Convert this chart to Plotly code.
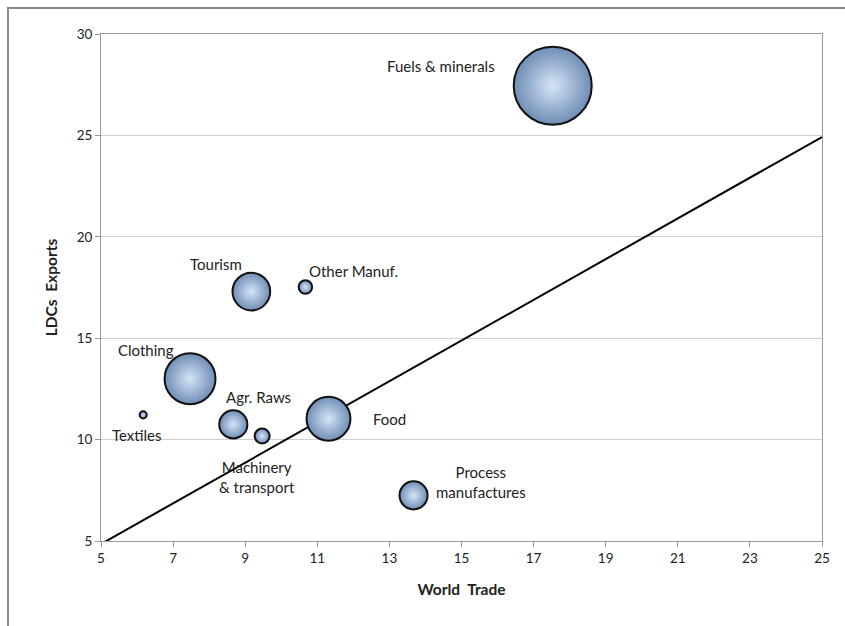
import plotly.graph_objects as go

sectors = ["Fuels & minerals", "Tourism", "Other Manuf.", "Clothing", "Textiles",
           "Agr. Raws", "Machinery<br>& transport", "Food", "Process<br>manufactures"]
world_trade = [17.53, 9.17, 10.67, 7.47, 6.17, 8.67, 9.47, 11.31, 13.67]
ldc_exports = [27.45, 17.3, 17.52, 13.0, 11.22, 10.75, 10.18, 11.03, 7.25]
bubble_size = [30.0, 7.0, 0.9, 12.8, 0.25, 3.9, 1.1, 9.5, 3.9]

# label offsets in pixels (dx, dy) relative to bubble centres
label_dx = [-112, -35, 48, -44, -6, 25, -5, 61, 67]
label_dy = [20, 28, 16, 29, -20, 27, -41, 0, 13]

ref_x = [5, 25]
ref_y = [4.85, 24.92]

fig = go.Figure()
fig.add_trace(go.Scatter(x=ref_x, y=ref_y, mode="lines",
                         line=dict(color="black", width=2), hoverinfo="skip",
                         showlegend=False))
fig.add_trace(go.Scatter(
    x=world_trade, y=ldc_exports, mode="markers",
    marker=dict(size=bubble_size, sizemode="area", sizeref=2 * 30 / 78 ** 2,
                color="#6f8db5",
                gradient=dict(type="radial", color="#d6e5f7"),
                line=dict(color="#111111", width=2), opacity=1),
    showlegend=False, text=sectors, hoverinfo="text"))

font_family = "Lato, Open Sans, sans-serif"
for s, x, y, dx, dy in zip(sectors, world_trade, ldc_exports, label_dx, label_dy):
    fig.add_annotation(x=x, y=y, text=s, showarrow=False, xshift=dx, yshift=dy,
                       font=dict(family=font_family, size=15, color="#222222"))

L, R, T, B = 101, 23, 34, 85
W, H = 845, 626
pw, ph = W - L - R, H - T - B
px = lambda v: (v - L) / pw
py = lambda v: (H - B - v) / ph
fig.add_shape(type="rect", xref="paper", yref="paper",
              x0=px(8), x1=px(860), y0=py(640), y1=py(8),
              line=dict(color="#8a8a8a", width=2), layer="below")

fig.update_layout(
    width=W, height=H, margin=dict(l=L, r=R, t=T, b=B),
    paper_bgcolor="white", plot_bgcolor="white",
    font=dict(family=font_family, size=13.5, color="#222222"),
    xaxis=dict(range=[5, 25], tickvals=list(range(5, 26, 2)), showgrid=False,
               showline=True, linecolor="#9a9a9a", linewidth=1, mirror=True,
               ticks="outside", ticklen=5, tickcolor="#9a9a9a", zeroline=False,
               title=dict(text="<b>World  Trade</b>", font=dict(size=15.5), standoff=18)),
    yaxis=dict(range=[5, 30], tickvals=list(range(5, 31, 5)), showgrid=True,
               gridcolor="#cfcfcf", showline=True, linecolor="#9a9a9a", linewidth=1,
               mirror=True, ticks="outside", ticklen=5, tickcolor="#9a9a9a",
               zeroline=False,
               title=dict(text="<b>LDCs  Exports</b>", font=dict(size=15.5), standoff=15)),
)

fig.write_html("out.html")
